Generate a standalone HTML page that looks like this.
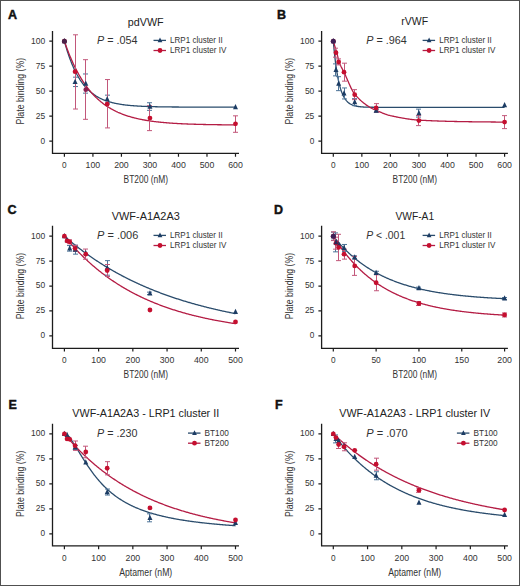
<!DOCTYPE html><html><head><meta charset="utf-8"><style>html,body{margin:0;padding:0;background:#fff;}svg{display:block;font-family:"Liberation Sans",sans-serif;}</style></head><body>
<svg width="520" height="586" viewBox="0 0 520 586">
<rect x="0" y="0" width="520" height="586" fill="#fff"/>
<text x="8" y="18.7" font-size="12.5" font-weight="bold" fill="#111" stroke="#111" stroke-width="0.45">A</text>
<text x="145.75" y="25.5" font-size="11" text-anchor="middle" textLength="35.8" lengthAdjust="spacingAndGlyphs" fill="#222">pdVWF</text>
<path d="M52.5 31V153.4H239" fill="none" stroke="#1c1c1c" stroke-width="1.3"/>
<path d="M49.3 141.1H52.5M49.3 116.12H52.5M49.3 91.15H52.5M49.3 66.17H52.5M49.3 41.2H52.5M64.4 153.4V156.7M92.92 153.4V156.7M121.43 153.4V156.7M149.95 153.4V156.7M178.47 153.4V156.7M206.98 153.4V156.7M235.5 153.4V156.7" stroke="#1c1c1c" stroke-width="1.2"/>
<text x="45.2" y="143.5" font-size="9.5" text-anchor="end" textLength="4.6" lengthAdjust="spacingAndGlyphs" fill="#333">0</text>
<text x="45.2" y="118.53" font-size="9.5" text-anchor="end" textLength="9.4" lengthAdjust="spacingAndGlyphs" fill="#333">25</text>
<text x="45.2" y="93.55" font-size="9.5" text-anchor="end" textLength="9.4" lengthAdjust="spacingAndGlyphs" fill="#333">50</text>
<text x="45.2" y="68.58" font-size="9.5" text-anchor="end" textLength="9.4" lengthAdjust="spacingAndGlyphs" fill="#333">75</text>
<text x="45.2" y="43.6" font-size="9.5" text-anchor="end" textLength="14.2" lengthAdjust="spacingAndGlyphs" fill="#333">100</text>
<text x="64.4" y="168.1" font-size="9.5" text-anchor="middle" textLength="4.6" lengthAdjust="spacingAndGlyphs" fill="#333">0</text>
<text x="92.92" y="168.1" font-size="9.5" text-anchor="middle" textLength="14.6" lengthAdjust="spacingAndGlyphs" fill="#333">100</text>
<text x="121.43" y="168.1" font-size="9.5" text-anchor="middle" textLength="14.6" lengthAdjust="spacingAndGlyphs" fill="#333">200</text>
<text x="149.95" y="168.1" font-size="9.5" text-anchor="middle" textLength="14.6" lengthAdjust="spacingAndGlyphs" fill="#333">300</text>
<text x="178.47" y="168.1" font-size="9.5" text-anchor="middle" textLength="14.6" lengthAdjust="spacingAndGlyphs" fill="#333">400</text>
<text x="206.98" y="168.1" font-size="9.5" text-anchor="middle" textLength="14.6" lengthAdjust="spacingAndGlyphs" fill="#333">500</text>
<text x="235.5" y="168.1" font-size="9.5" text-anchor="middle" textLength="14.6" lengthAdjust="spacingAndGlyphs" fill="#333">600</text>
<text x="145.75" y="183" font-size="10.6" text-anchor="middle" textLength="44.4" lengthAdjust="spacingAndGlyphs" fill="#333">BT200 (nM)</text>
<text x="0" y="0" fill="#333" font-size="11" text-anchor="middle" textLength="66.5" lengthAdjust="spacingAndGlyphs" transform="translate(24.2 91.15) rotate(-90)">Plate binding (%)</text>
<text x="97.1" y="43.8" fill="#333" font-size="10.6" textLength="40.5" lengthAdjust="spacingAndGlyphs"><tspan font-style="italic">P</tspan> = .054</text>
<path d="M153.5 40.4h12.5" stroke="#2a4c6c" stroke-width="1.3"/>
<path d="M153.5 50.5h12.5" stroke="#b41c44" stroke-width="1.3"/>
<path d="M160 37.44L162.35 42.37L157.65 42.37Z" fill="#1c3c64"/>
<circle cx="160" cy="50.5" r="2.4" fill="#c50f2f"/>
<text x="170.1" y="43" font-size="9" textLength="52.6" lengthAdjust="spacingAndGlyphs" fill="#333">LRP1 cluster II</text>
<text x="170.1" y="53.4" font-size="9" textLength="56.2" lengthAdjust="spacingAndGlyphs" fill="#333">LRP1 cluster IV</text>
<polyline points="64.4,41.2 65.11,43.79 65.83,46.27 66.54,48.66 67.25,50.95 67.96,53.15 68.68,55.27 69.39,57.3 70.1,59.26 70.82,61.13 71.53,62.94 72.24,64.67 72.96,66.34 73.67,67.93 74.38,69.47 75.09,70.95 75.81,72.37 76.52,73.73 77.23,75.04 77.95,76.3 78.66,77.51 79.37,78.67 80.08,79.79 80.8,80.86 81.51,81.89 82.22,82.88 82.94,83.83 83.65,84.74 84.36,85.62 85.07,86.46 85.79,87.28 86.5,88.05 87.21,88.8 87.93,89.52 88.64,90.21 89.35,90.87 90.07,91.51 90.78,92.12 91.49,92.71 92.2,93.28 92.92,93.82 93.63,94.34 94.34,94.85 95.06,95.33 95.77,95.79 96.48,96.24 97.19,96.66 97.91,97.07 98.62,97.47 99.33,97.85 100.05,98.21 100.76,98.56 101.47,98.9 102.18,99.22 102.9,99.53 103.61,99.83 104.32,100.11 105.04,100.39 105.75,100.65 106.46,100.91 107.18,101.15 107.89,101.39 108.6,101.61 109.31,101.83 110.03,102.04 110.74,102.24 111.45,102.43 112.17,102.61 112.88,102.79 113.59,102.96 114.3,103.12 115.02,103.28 115.73,103.43 116.44,103.58 117.16,103.72 117.87,103.85 118.58,103.98 119.29,104.1 120.01,104.22 120.72,104.34 121.43,104.45 122.15,104.55 122.86,104.65 123.57,104.75 124.29,104.84 125,104.93 125.71,105.02 126.42,105.1 127.14,105.18 127.85,105.26 128.56,105.33 129.28,105.4 129.99,105.47 130.7,105.54 131.41,105.6 132.13,105.66 132.84,105.72 133.55,105.77 134.27,105.83 134.98,105.88 135.69,105.93 136.4,105.97 137.12,106.02 137.83,106.06 138.54,106.1 139.26,106.15 139.97,106.18 140.68,106.22 141.4,106.26 142.11,106.29 142.82,106.32 143.53,106.36 144.25,106.39 144.96,106.42 145.67,106.44 146.39,106.47 147.1,106.5 147.81,106.52 148.52,106.55 149.24,106.57 149.95,106.59 150.66,106.61 151.38,106.63 152.09,106.65 152.8,106.67 153.51,106.69 154.23,106.71 154.94,106.72 155.65,106.74 156.37,106.76 157.08,106.77 157.79,106.78 158.5,106.8 159.22,106.81 159.93,106.82 160.64,106.84 161.36,106.85 162.07,106.86 162.78,106.87 163.5,106.88 164.21,106.89 164.92,106.9 165.63,106.91 166.35,106.92 167.06,106.93 167.77,106.93 168.49,106.94 169.2,106.95 169.91,106.96 170.62,106.96 171.34,106.97 172.05,106.98 172.76,106.98 173.48,106.99 174.19,106.99 174.9,107 175.62,107.01 176.33,107.01 177.04,107.02 177.75,107.02 178.47,107.02 179.18,107.03 179.89,107.03 180.61,107.04 181.32,107.04 182.03,107.04 182.74,107.05 183.46,107.05 184.17,107.05 184.88,107.06 185.6,107.06 186.31,107.06 187.02,107.07 187.73,107.07 188.45,107.07 189.16,107.07 189.87,107.08 190.59,107.08 191.3,107.08 192.01,107.08 192.73,107.08 193.44,107.09 194.15,107.09 194.86,107.09 195.58,107.09 196.29,107.09 197,107.1 197.72,107.1 198.43,107.1 199.14,107.1 199.85,107.1 200.57,107.1 201.28,107.1 201.99,107.1 202.71,107.11 203.42,107.11 204.13,107.11 204.84,107.11 205.56,107.11 206.27,107.11 206.98,107.11 207.7,107.11 208.41,107.11 209.12,107.11 209.84,107.12 210.55,107.12 211.26,107.12 211.97,107.12 212.69,107.12 213.4,107.12 214.11,107.12 214.83,107.12 215.54,107.12 216.25,107.12 216.96,107.12 217.68,107.12 218.39,107.12 219.1,107.12 219.82,107.12 220.53,107.12 221.24,107.12 221.95,107.12 222.67,107.12 223.38,107.13 224.09,107.13 224.81,107.13 225.52,107.13 226.23,107.13 226.95,107.13 227.66,107.13 228.37,107.13 229.08,107.13 229.8,107.13 230.51,107.13 231.22,107.13 231.94,107.13 232.65,107.13 233.36,107.13 234.07,107.13 234.79,107.13 235.5,107.13" fill="none" stroke="#2a4c6c" stroke-width="1.3"/>
<polyline points="64.4,41.2 65.11,43.27 65.83,45.29 66.54,47.26 67.25,49.19 67.96,51.06 68.68,52.89 69.39,54.67 70.1,56.41 70.82,58.11 71.53,59.76 72.24,61.38 72.96,62.95 73.67,64.48 74.38,65.98 75.09,67.44 75.81,68.87 76.52,70.25 77.23,71.61 77.95,72.93 78.66,74.22 79.37,75.48 80.08,76.7 80.8,77.9 81.51,79.06 82.22,80.2 82.94,81.31 83.65,82.39 84.36,83.44 85.07,84.47 85.79,85.48 86.5,86.46 87.21,87.41 87.93,88.34 88.64,89.25 89.35,90.13 90.07,91 90.78,91.84 91.49,92.66 92.2,93.46 92.92,94.25 93.63,95.01 94.34,95.75 95.06,96.48 95.77,97.18 96.48,97.87 97.19,98.55 97.91,99.2 98.62,99.84 99.33,100.47 100.05,101.07 100.76,101.67 101.47,102.25 102.18,102.81 102.9,103.36 103.61,103.9 104.32,104.42 105.04,104.93 105.75,105.43 106.46,105.92 107.18,106.39 107.89,106.85 108.6,107.3 109.31,107.74 110.03,108.17 110.74,108.59 111.45,109 112.17,109.4 112.88,109.79 113.59,110.16 114.3,110.53 115.02,110.89 115.73,111.24 116.44,111.59 117.16,111.92 117.87,112.25 118.58,112.56 119.29,112.87 120.01,113.18 120.72,113.47 121.43,113.76 122.15,114.04 122.86,114.31 123.57,114.58 124.29,114.84 125,115.09 125.71,115.34 126.42,115.58 127.14,115.82 127.85,116.05 128.56,116.27 129.28,116.49 129.99,116.7 130.7,116.91 131.41,117.11 132.13,117.31 132.84,117.5 133.55,117.69 134.27,117.87 134.98,118.05 135.69,118.23 136.4,118.4 137.12,118.56 137.83,118.73 138.54,118.88 139.26,119.04 139.97,119.19 140.68,119.33 141.4,119.48 142.11,119.62 142.82,119.75 143.53,119.88 144.25,120.01 144.96,120.14 145.67,120.26 146.39,120.38 147.1,120.5 147.81,120.61 148.52,120.72 149.24,120.83 149.95,120.94 150.66,121.04 151.38,121.14 152.09,121.24 152.8,121.34 153.51,121.43 154.23,121.52 154.94,121.61 155.65,121.7 156.37,121.78 157.08,121.86 157.79,121.94 158.5,122.02 159.22,122.1 159.93,122.17 160.64,122.24 161.36,122.32 162.07,122.38 162.78,122.45 163.5,122.52 164.21,122.58 164.92,122.64 165.63,122.71 166.35,122.77 167.06,122.82 167.77,122.88 168.49,122.93 169.2,122.99 169.91,123.04 170.62,123.09 171.34,123.14 172.05,123.19 172.76,123.24 173.48,123.29 174.19,123.33 174.9,123.37 175.62,123.42 176.33,123.46 177.04,123.5 177.75,123.54 178.47,123.58 179.18,123.62 179.89,123.65 180.61,123.69 181.32,123.73 182.03,123.76 182.74,123.79 183.46,123.83 184.17,123.86 184.88,123.89 185.6,123.92 186.31,123.95 187.02,123.98 187.73,124.01 188.45,124.03 189.16,124.06 189.87,124.09 190.59,124.11 191.3,124.14 192.01,124.16 192.73,124.18 193.44,124.21 194.15,124.23 194.86,124.25 195.58,124.27 196.29,124.29 197,124.31 197.72,124.33 198.43,124.35 199.14,124.37 199.85,124.39 200.57,124.41 201.28,124.43 201.99,124.44 202.71,124.46 203.42,124.48 204.13,124.49 204.84,124.51 205.56,124.52 206.27,124.54 206.98,124.55 207.7,124.56 208.41,124.58 209.12,124.59 209.84,124.6 210.55,124.62 211.26,124.63 211.97,124.64 212.69,124.65 213.4,124.66 214.11,124.68 214.83,124.69 215.54,124.7 216.25,124.71 216.96,124.72 217.68,124.73 218.39,124.74 219.1,124.75 219.82,124.76 220.53,124.76 221.24,124.77 221.95,124.78 222.67,124.79 223.38,124.8 224.09,124.81 224.81,124.81 225.52,124.82 226.23,124.83 226.95,124.84 227.66,124.84 228.37,124.85 229.08,124.86 229.8,124.86 230.51,124.87 231.22,124.87 231.94,124.88 232.65,124.89 233.36,124.89 234.07,124.9 234.79,124.9 235.5,124.91" fill="none" stroke="#b41c44" stroke-width="1.3"/>
<path d="M75.5 77.16V86.55M73 77.16h5M73 86.55h5" stroke="#4d7498" stroke-width="1" fill="none"/>
<path d="M85.5 73.97V93.15M83 73.97h5M83 93.15h5" stroke="#4d7498" stroke-width="1" fill="none"/>
<path d="M107.5 95.15V103.14M105 95.15h5M105 103.14h5" stroke="#4d7498" stroke-width="1" fill="none"/>
<path d="M149.5 102.74V110.33M147 102.74h5M147 110.33h5" stroke="#4d7498" stroke-width="1" fill="none"/>
<path d="M75.5 34.81V109.03M73 34.81h5M73 109.03h5" stroke="#c2577a" stroke-width="1" fill="none"/>
<path d="M85.5 59.68V119.32M83 59.68h5M83 119.32h5" stroke="#c2577a" stroke-width="1" fill="none"/>
<path d="M107.5 79.56V127.91M105 79.56h5M105 127.91h5" stroke="#c2577a" stroke-width="1" fill="none"/>
<path d="M149.5 105.64V130.61M147 105.64h5M147 130.61h5" stroke="#c2577a" stroke-width="1" fill="none"/>
<path d="M235.5 115.83V132.31M233 115.83h5M233 132.31h5" stroke="#c2577a" stroke-width="1" fill="none"/>
<path d="M64.4 38.05L66.9 43.3L61.9 43.3Z" fill="#1c3c64"/>
<path d="M75.09 78.71L77.59 83.96L72.59 83.96Z" fill="#1c3c64"/>
<path d="M85.79 80.41L88.29 85.66L83.29 85.66Z" fill="#1c3c64"/>
<path d="M107.18 95.99L109.68 101.24L104.68 101.24Z" fill="#1c3c64"/>
<path d="M149.95 103.38L152.45 108.63L147.45 108.63Z" fill="#1c3c64"/>
<path d="M235.5 103.98L238 109.23L233 109.23Z" fill="#1c3c64"/>
<circle cx="64.4" cy="41.2" r="2.4" fill="#c50f2f"/>
<circle cx="75.09" cy="71.67" r="2.4" fill="#c50f2f"/>
<circle cx="85.79" cy="89.65" r="2.4" fill="#8a1d4e"/>
<circle cx="107.18" cy="104.14" r="2.4" fill="#c50f2f"/>
<circle cx="149.95" cy="118.12" r="2.4" fill="#c50f2f"/>
<circle cx="235.5" cy="123.82" r="2.4" fill="#c50f2f"/>
<circle cx="64.4" cy="41.2" r="2.5" fill="#4a2148"/>
<text x="277" y="18.8" font-size="12.5" font-weight="bold" fill="#111" stroke="#111" stroke-width="0.45">B</text>
<text x="414.75" y="25.3" font-size="11" text-anchor="middle" textLength="26.8" lengthAdjust="spacingAndGlyphs" fill="#222">rVWF</text>
<path d="M321.6 31V153.4H507.9" fill="none" stroke="#1c1c1c" stroke-width="1.3"/>
<path d="M318.4 141.1H321.6M318.4 116.12H321.6M318.4 91.15H321.6M318.4 66.17H321.6M318.4 41.2H321.6M333.3 153.4V156.7M361.85 153.4V156.7M390.4 153.4V156.7M418.95 153.4V156.7M447.5 153.4V156.7M476.05 153.4V156.7M504.6 153.4V156.7" stroke="#1c1c1c" stroke-width="1.2"/>
<text x="314.3" y="143.5" font-size="9.5" text-anchor="end" textLength="4.6" lengthAdjust="spacingAndGlyphs" fill="#333">0</text>
<text x="314.3" y="118.53" font-size="9.5" text-anchor="end" textLength="9.4" lengthAdjust="spacingAndGlyphs" fill="#333">25</text>
<text x="314.3" y="93.55" font-size="9.5" text-anchor="end" textLength="9.4" lengthAdjust="spacingAndGlyphs" fill="#333">50</text>
<text x="314.3" y="68.58" font-size="9.5" text-anchor="end" textLength="9.4" lengthAdjust="spacingAndGlyphs" fill="#333">75</text>
<text x="314.3" y="43.6" font-size="9.5" text-anchor="end" textLength="14.2" lengthAdjust="spacingAndGlyphs" fill="#333">100</text>
<text x="333.3" y="168.1" font-size="9.5" text-anchor="middle" textLength="4.6" lengthAdjust="spacingAndGlyphs" fill="#333">0</text>
<text x="361.85" y="168.1" font-size="9.5" text-anchor="middle" textLength="14.6" lengthAdjust="spacingAndGlyphs" fill="#333">100</text>
<text x="390.4" y="168.1" font-size="9.5" text-anchor="middle" textLength="14.6" lengthAdjust="spacingAndGlyphs" fill="#333">200</text>
<text x="418.95" y="168.1" font-size="9.5" text-anchor="middle" textLength="14.6" lengthAdjust="spacingAndGlyphs" fill="#333">300</text>
<text x="447.5" y="168.1" font-size="9.5" text-anchor="middle" textLength="14.6" lengthAdjust="spacingAndGlyphs" fill="#333">400</text>
<text x="476.05" y="168.1" font-size="9.5" text-anchor="middle" textLength="14.6" lengthAdjust="spacingAndGlyphs" fill="#333">500</text>
<text x="504.6" y="168.1" font-size="9.5" text-anchor="middle" textLength="14.6" lengthAdjust="spacingAndGlyphs" fill="#333">600</text>
<text x="414.75" y="183" font-size="10.6" text-anchor="middle" textLength="44.4" lengthAdjust="spacingAndGlyphs" fill="#333">BT200 (nM)</text>
<text x="0" y="0" fill="#333" font-size="11" text-anchor="middle" textLength="66.5" lengthAdjust="spacingAndGlyphs" transform="translate(293.3 91.15) rotate(-90)">Plate binding (%)</text>
<text x="366.2" y="43.8" fill="#333" font-size="10.6" textLength="40.5" lengthAdjust="spacingAndGlyphs"><tspan font-style="italic">P</tspan> = .964</text>
<path d="M422.6 40.4h12.5" stroke="#2a4c6c" stroke-width="1.3"/>
<path d="M422.6 50.5h12.5" stroke="#b41c44" stroke-width="1.3"/>
<path d="M429.1 37.44L431.45 42.37L426.75 42.37Z" fill="#1c3c64"/>
<circle cx="429.1" cy="50.5" r="2.4" fill="#c50f2f"/>
<text x="439.2" y="43" font-size="9" textLength="52.6" lengthAdjust="spacingAndGlyphs" fill="#333">LRP1 cluster II</text>
<text x="439.2" y="53.4" font-size="9" textLength="56.2" lengthAdjust="spacingAndGlyphs" fill="#333">LRP1 cluster IV</text>
<polyline points="333.3,41.2 334.01,48.97 334.73,55.83 335.44,61.88 336.16,67.22 336.87,71.93 337.58,76.09 338.3,79.77 339.01,83 339.72,85.86 340.44,88.39 341.15,90.61 341.87,92.58 342.58,94.31 343.29,95.84 344.01,97.19 344.72,98.38 345.43,99.44 346.15,100.36 346.86,101.18 347.57,101.91 348.29,102.54 349,103.11 349.72,103.6 350.43,104.04 351.14,104.43 351.86,104.77 352.57,105.07 353.29,105.34 354,105.57 354.71,105.78 355.43,105.96 356.14,106.12 356.85,106.26 357.57,106.39 358.28,106.5 359,106.6 359.71,106.69 360.42,106.76 361.14,106.83 361.85,106.89 362.56,106.94 363.28,106.99 363.99,107.03 364.71,107.06 365.42,107.1 366.13,107.12 366.85,107.15 367.56,107.17 368.27,107.19 368.99,107.21 369.7,107.22 370.42,107.23 371.13,107.25 371.84,107.26 372.56,107.27 373.27,107.27 373.98,107.28 374.7,107.29 375.41,107.29 376.12,107.3 376.84,107.3 377.55,107.31 378.27,107.31 378.98,107.31 379.69,107.31 380.41,107.32 381.12,107.32 381.84,107.32 382.55,107.32 383.26,107.32 383.98,107.32 384.69,107.33 385.4,107.33 386.12,107.33 386.83,107.33 387.55,107.33 388.26,107.33 388.97,107.33 389.69,107.33 390.4,107.33 391.11,107.33 391.83,107.33 392.54,107.33 393.25,107.33 393.97,107.33 394.68,107.33 395.4,107.33 396.11,107.33 396.82,107.33 397.54,107.33 398.25,107.33 398.97,107.33 399.68,107.33 400.39,107.33 401.11,107.33 401.82,107.33 402.53,107.33 403.25,107.33 403.96,107.33 404.68,107.33 405.39,107.33 406.1,107.33 406.82,107.33 407.53,107.33 408.24,107.33 408.96,107.33 409.67,107.33 410.38,107.33 411.1,107.33 411.81,107.33 412.53,107.33 413.24,107.33 413.95,107.33 414.67,107.33 415.38,107.33 416.1,107.33 416.81,107.33 417.52,107.33 418.24,107.33 418.95,107.33 419.66,107.33 420.38,107.33 421.09,107.33 421.81,107.33 422.52,107.33 423.23,107.33 423.95,107.33 424.66,107.33 425.37,107.33 426.09,107.33 426.8,107.33 427.51,107.33 428.23,107.33 428.94,107.33 429.66,107.33 430.37,107.33 431.08,107.33 431.8,107.33 432.51,107.33 433.23,107.33 433.94,107.33 434.65,107.33 435.37,107.33 436.08,107.33 436.79,107.33 437.51,107.33 438.22,107.33 438.94,107.33 439.65,107.33 440.36,107.33 441.08,107.33 441.79,107.33 442.5,107.33 443.22,107.33 443.93,107.33 444.65,107.33 445.36,107.33 446.07,107.33 446.79,107.33 447.5,107.33 448.21,107.33 448.93,107.33 449.64,107.33 450.36,107.33 451.07,107.33 451.78,107.33 452.5,107.33 453.21,107.33 453.92,107.33 454.64,107.33 455.35,107.33 456.07,107.33 456.78,107.33 457.49,107.33 458.21,107.33 458.92,107.33 459.63,107.33 460.35,107.33 461.06,107.33 461.78,107.33 462.49,107.33 463.2,107.33 463.92,107.33 464.63,107.33 465.34,107.33 466.06,107.33 466.77,107.33 467.49,107.33 468.2,107.33 468.91,107.33 469.63,107.33 470.34,107.33 471.05,107.33 471.77,107.33 472.48,107.33 473.2,107.33 473.91,107.33 474.62,107.33 475.34,107.33 476.05,107.33 476.76,107.33 477.48,107.33 478.19,107.33 478.91,107.33 479.62,107.33 480.33,107.33 481.05,107.33 481.76,107.33 482.47,107.33 483.19,107.33 483.9,107.33 484.62,107.33 485.33,107.33 486.04,107.33 486.76,107.33 487.47,107.33 488.18,107.33 488.9,107.33 489.61,107.33 490.33,107.33 491.04,107.33 491.75,107.33 492.47,107.33 493.18,107.33 493.89,107.33 494.61,107.33 495.32,107.33 496.04,107.33 496.75,107.33 497.46,107.33 498.18,107.33 498.89,107.33 499.6,107.33 500.32,107.33 501.03,107.33 501.75,107.33 502.46,107.33 503.17,107.33 503.89,107.33 504.6,107.33" fill="none" stroke="#2a4c6c" stroke-width="1.3"/>
<polyline points="333.3,41.2 334.01,43.55 334.73,45.88 335.44,48.22 336.16,50.61 336.87,53.08 337.58,55.85 338.3,58.85 339.01,61.5 339.72,63.45 340.44,65.16 341.15,66.71 341.87,68.15 342.58,69.53 343.29,70.9 344.01,72.3 344.72,73.77 345.43,75.31 346.15,76.9 346.86,78.53 347.57,80.18 348.29,81.83 349,83.46 349.72,85.07 350.43,86.63 351.14,88.13 351.86,89.56 352.57,90.88 353.29,92.1 354,93.2 354.71,94.15 355.43,95.01 356.14,95.83 356.85,96.63 357.57,97.41 358.28,98.15 359,98.87 359.71,99.57 360.42,100.24 361.14,100.88 361.85,101.51 362.56,102.11 363.28,102.7 363.99,103.26 364.71,103.81 365.42,104.34 366.13,104.86 366.85,105.35 367.56,105.84 368.27,106.31 368.99,106.77 369.7,107.22 370.42,107.65 371.13,108.04 371.84,108.41 372.56,108.77 373.27,109.1 373.98,109.42 374.7,109.73 375.41,110.03 376.12,110.33 376.84,110.63 377.55,110.94 378.27,111.24 378.98,111.55 379.69,111.86 380.41,112.16 381.12,112.46 381.84,112.76 382.55,113.05 383.26,113.33 383.98,113.61 384.69,113.88 385.4,114.15 386.12,114.4 386.83,114.64 387.55,114.86 388.26,115.08 388.97,115.28 389.69,115.46 390.4,115.63 391.11,115.78 391.83,115.94 392.54,116.09 393.25,116.25 393.97,116.4 394.68,116.55 395.4,116.7 396.11,116.85 396.82,116.99 397.54,117.14 398.25,117.28 398.97,117.42 399.68,117.56 400.39,117.7 401.11,117.83 401.82,117.96 402.53,118.09 403.25,118.21 403.96,118.34 404.68,118.46 405.39,118.58 406.1,118.69 406.82,118.8 407.53,118.91 408.24,119.01 408.96,119.12 409.67,119.21 410.38,119.31 411.1,119.4 411.81,119.48 412.53,119.57 413.24,119.65 413.95,119.72 414.67,119.79 415.38,119.86 416.1,119.92 416.81,119.98 417.52,120.03 418.24,120.08 418.95,120.12 419.66,120.16 420.38,120.2 421.09,120.24 421.81,120.28 422.52,120.32 423.23,120.35 423.95,120.39 424.66,120.43 425.37,120.46 426.09,120.5 426.8,120.53 427.51,120.57 428.23,120.6 428.94,120.63 429.66,120.66 430.37,120.7 431.08,120.73 431.8,120.76 432.51,120.79 433.23,120.82 433.94,120.85 434.65,120.87 435.37,120.9 436.08,120.93 436.79,120.96 437.51,120.98 438.22,121.01 438.94,121.03 439.65,121.06 440.36,121.08 441.08,121.11 441.79,121.13 442.5,121.15 443.22,121.18 443.93,121.2 444.65,121.22 445.36,121.24 446.07,121.26 446.79,121.28 447.5,121.3 448.21,121.32 448.93,121.34 449.64,121.36 450.36,121.38 451.07,121.39 451.78,121.41 452.5,121.43 453.21,121.45 453.92,121.46 454.64,121.48 455.35,121.49 456.07,121.51 456.78,121.52 457.49,121.54 458.21,121.55 458.92,121.57 459.63,121.58 460.35,121.59 461.06,121.61 461.78,121.62 462.49,121.63 463.2,121.64 463.92,121.66 464.63,121.67 465.34,121.68 466.06,121.69 466.77,121.7 467.49,121.71 468.2,121.72 468.91,121.73 469.63,121.74 470.34,121.75 471.05,121.76 471.77,121.77 472.48,121.78 473.2,121.79 473.91,121.8 474.62,121.81 475.34,121.81 476.05,121.82 476.76,121.83 477.48,121.84 478.19,121.85 478.91,121.86 479.62,121.86 480.33,121.87 481.05,121.88 481.76,121.89 482.47,121.89 483.19,121.9 483.9,121.91 484.62,121.91 485.33,121.92 486.04,121.93 486.76,121.94 487.47,121.94 488.18,121.95 488.9,121.96 489.61,121.96 490.33,121.97 491.04,121.98 491.75,121.98 492.47,121.99 493.18,122 493.89,122.01 494.61,122.01 495.32,122.02 496.04,122.03 496.75,122.03 497.46,122.04 498.18,122.05 498.89,122.06 499.6,122.06 500.32,122.07 501.03,122.08 501.75,122.09 502.46,122.09 503.17,122.1 503.89,122.11 504.6,122.12" fill="none" stroke="#b41c44" stroke-width="1.3"/>
<path d="M335.5 63.88V75.87M333 63.88h5M333 75.87h5" stroke="#4d7498" stroke-width="1" fill="none"/>
<path d="M338.5 76.66V90.65M336 76.66h5M336 90.65h5" stroke="#4d7498" stroke-width="1" fill="none"/>
<path d="M344.5 87.95V98.94M342 87.95h5M342 98.94h5" stroke="#4d7498" stroke-width="1" fill="none"/>
<path d="M354.5 98.64V105.64M352 98.64h5M352 105.64h5" stroke="#4d7498" stroke-width="1" fill="none"/>
<path d="M376.5 109.23V112.23M374 109.23h5M374 112.23h5" stroke="#4d7498" stroke-width="1" fill="none"/>
<path d="M418.5 109.13V117.12M416 109.13h5M416 117.12h5" stroke="#4d7498" stroke-width="1" fill="none"/>
<path d="M335.5 48.19V57.18M333 48.19h5M333 57.18h5" stroke="#c2577a" stroke-width="1" fill="none"/>
<path d="M338.5 58.88V64.88M336 58.88h5M336 64.88h5" stroke="#c2577a" stroke-width="1" fill="none"/>
<path d="M344.5 63.18V81.16M342 63.18h5M342 81.16h5" stroke="#c2577a" stroke-width="1" fill="none"/>
<path d="M354.5 89.65V99.64M352 89.65h5M352 99.64h5" stroke="#c2577a" stroke-width="1" fill="none"/>
<path d="M376.5 103.64V112.23M374 103.64h5M374 112.23h5" stroke="#c2577a" stroke-width="1" fill="none"/>
<path d="M418.5 115.63V125.62M416 115.63h5M416 125.62h5" stroke="#c2577a" stroke-width="1" fill="none"/>
<path d="M504.5 115.63V128.61M502 115.63h5M502 128.61h5" stroke="#c2577a" stroke-width="1" fill="none"/>
<path d="M333.3 38.05L335.8 43.3L330.8 43.3Z" fill="#1c3c64"/>
<path d="M335.98 66.72L338.48 71.97L333.48 71.97Z" fill="#1c3c64"/>
<path d="M338.65 80.51L341.15 85.76L336.15 85.76Z" fill="#1c3c64"/>
<path d="M344.01 90.3L346.51 95.55L341.51 95.55Z" fill="#1c3c64"/>
<path d="M354.71 98.99L357.21 104.24L352.21 104.24Z" fill="#1c3c64"/>
<path d="M376.12 107.58L378.62 112.83L373.62 112.83Z" fill="#1c3c64"/>
<path d="M418.95 109.98L421.45 115.23L416.45 115.23Z" fill="#1c3c64"/>
<path d="M504.6 101.99L507.1 107.24L502.1 107.24Z" fill="#1c3c64"/>
<circle cx="333.3" cy="41.2" r="2.4" fill="#c50f2f"/>
<circle cx="335.98" cy="52.69" r="2.4" fill="#c50f2f"/>
<circle cx="338.65" cy="61.88" r="2.4" fill="#c50f2f"/>
<circle cx="344.01" cy="72.17" r="2.4" fill="#c50f2f"/>
<circle cx="354.71" cy="94.65" r="2.4" fill="#c50f2f"/>
<circle cx="376.12" cy="107.93" r="2.4" fill="#c50f2f"/>
<circle cx="418.95" cy="120.62" r="2.4" fill="#c50f2f"/>
<circle cx="504.6" cy="122.12" r="2.4" fill="#c50f2f"/>
<circle cx="333.3" cy="41.2" r="2.5" fill="#3d2156"/>
<text x="7.6" y="213.9" font-size="12.5" font-weight="bold" fill="#111" stroke="#111" stroke-width="0.45">C</text>
<text x="145.75" y="219.5" font-size="11" text-anchor="middle" textLength="68" lengthAdjust="spacingAndGlyphs" fill="#222">VWF-A1A2A3</text>
<path d="M52.5 225.8V348.3H239" fill="none" stroke="#1c1c1c" stroke-width="1.3"/>
<path d="M49.3 335.9H52.5M49.3 310.97H52.5M49.3 286.05H52.5M49.3 261.12H52.5M49.3 236.2H52.5M64.4 348.3V351.6M98.62 348.3V351.6M132.84 348.3V351.6M167.06 348.3V351.6M201.28 348.3V351.6M235.5 348.3V351.6" stroke="#1c1c1c" stroke-width="1.2"/>
<text x="45.2" y="338.3" font-size="9.5" text-anchor="end" textLength="4.6" lengthAdjust="spacingAndGlyphs" fill="#333">0</text>
<text x="45.2" y="313.37" font-size="9.5" text-anchor="end" textLength="9.4" lengthAdjust="spacingAndGlyphs" fill="#333">25</text>
<text x="45.2" y="288.45" font-size="9.5" text-anchor="end" textLength="9.4" lengthAdjust="spacingAndGlyphs" fill="#333">50</text>
<text x="45.2" y="263.52" font-size="9.5" text-anchor="end" textLength="9.4" lengthAdjust="spacingAndGlyphs" fill="#333">75</text>
<text x="45.2" y="238.6" font-size="9.5" text-anchor="end" textLength="14.2" lengthAdjust="spacingAndGlyphs" fill="#333">100</text>
<text x="64.4" y="363" font-size="9.5" text-anchor="middle" textLength="4.6" lengthAdjust="spacingAndGlyphs" fill="#333">0</text>
<text x="98.62" y="363" font-size="9.5" text-anchor="middle" textLength="14.6" lengthAdjust="spacingAndGlyphs" fill="#333">100</text>
<text x="132.84" y="363" font-size="9.5" text-anchor="middle" textLength="14.6" lengthAdjust="spacingAndGlyphs" fill="#333">200</text>
<text x="167.06" y="363" font-size="9.5" text-anchor="middle" textLength="14.6" lengthAdjust="spacingAndGlyphs" fill="#333">300</text>
<text x="201.28" y="363" font-size="9.5" text-anchor="middle" textLength="14.6" lengthAdjust="spacingAndGlyphs" fill="#333">400</text>
<text x="235.5" y="363" font-size="9.5" text-anchor="middle" textLength="14.6" lengthAdjust="spacingAndGlyphs" fill="#333">500</text>
<text x="145.75" y="377.9" font-size="10.6" text-anchor="middle" textLength="44.4" lengthAdjust="spacingAndGlyphs" fill="#333">BT200 (nM)</text>
<text x="0" y="0" fill="#333" font-size="11" text-anchor="middle" textLength="66.5" lengthAdjust="spacingAndGlyphs" transform="translate(24.2 286.05) rotate(-90)">Plate binding (%)</text>
<text x="97.1" y="238.8" fill="#333" font-size="10.6" textLength="41.2" lengthAdjust="spacingAndGlyphs"><tspan font-style="italic">P</tspan> = .006</text>
<path d="M153.5 235.4h12.5" stroke="#2a4c6c" stroke-width="1.3"/>
<path d="M153.5 245.5h12.5" stroke="#b41c44" stroke-width="1.3"/>
<path d="M160 232.44L162.35 237.37L157.65 237.37Z" fill="#1c3c64"/>
<circle cx="160" cy="245.5" r="2.4" fill="#c50f2f"/>
<text x="170.1" y="238" font-size="9" textLength="52.6" lengthAdjust="spacingAndGlyphs" fill="#333">LRP1 cluster II</text>
<text x="170.1" y="248.4" font-size="9" textLength="56.2" lengthAdjust="spacingAndGlyphs" fill="#333">LRP1 cluster IV</text>
<polyline points="64.4,236.2 65.11,236.82 65.83,237.44 66.54,238.05 67.25,238.66 67.96,239.27 68.68,239.87 69.39,240.47 70.1,241.06 70.82,241.65 71.53,242.24 72.24,242.82 72.96,243.4 73.67,243.98 74.38,244.55 75.09,245.12 75.81,245.69 76.52,246.25 77.23,246.81 77.95,247.36 78.66,247.92 79.37,248.46 80.08,249.01 80.8,249.55 81.51,250.09 82.22,250.62 82.94,251.15 83.65,251.68 84.36,252.21 85.07,252.73 85.79,253.25 86.5,253.76 87.21,254.27 87.93,254.78 88.64,255.29 89.35,255.79 90.06,256.29 90.78,256.78 91.49,257.28 92.2,257.77 92.92,258.25 93.63,258.74 94.34,259.22 95.06,259.7 95.77,260.17 96.48,260.64 97.19,261.11 97.91,261.58 98.62,262.04 99.33,262.5 100.05,262.96 100.76,263.41 101.47,263.86 102.18,264.31 102.9,264.76 103.61,265.2 104.32,265.64 105.04,266.08 105.75,266.52 106.46,266.95 107.18,267.38 107.89,267.8 108.6,268.23 109.31,268.65 110.03,269.07 110.74,269.49 111.45,269.9 112.17,270.31 112.88,270.72 113.59,271.13 114.3,271.53 115.02,271.93 115.73,272.33 116.44,272.72 117.16,273.12 117.87,273.51 118.58,273.9 119.29,274.28 120.01,274.67 120.72,275.05 121.43,275.43 122.15,275.81 122.86,276.18 123.57,276.55 124.28,276.92 125,277.29 125.71,277.65 126.42,278.02 127.14,278.38 127.85,278.74 128.56,279.09 129.28,279.45 129.99,279.8 130.7,280.15 131.41,280.5 132.13,280.84 132.84,281.18 133.55,281.52 134.27,281.86 134.98,282.2 135.69,282.53 136.4,282.87 137.12,283.2 137.83,283.53 138.54,283.85 139.26,284.18 139.97,284.5 140.68,284.82 141.4,285.14 142.11,285.45 142.82,285.77 143.53,286.08 144.25,286.39 144.96,286.7 145.67,287.01 146.39,287.31 147.1,287.61 147.81,287.91 148.52,288.21 149.24,288.51 149.95,288.81 150.66,289.1 151.38,289.39 152.09,289.68 152.8,289.97 153.51,290.25 154.23,290.54 154.94,290.82 155.65,291.1 156.37,291.38 157.08,291.66 157.79,291.93 158.5,292.21 159.22,292.48 159.93,292.75 160.64,293.02 161.36,293.29 162.07,293.55 162.78,293.82 163.5,294.08 164.21,294.34 164.92,294.6 165.63,294.86 166.35,295.11 167.06,295.37 167.77,295.62 168.49,295.87 169.2,296.12 169.91,296.37 170.62,296.61 171.34,296.86 172.05,297.1 172.76,297.34 173.48,297.58 174.19,297.82 174.9,298.06 175.62,298.29 176.33,298.53 177.04,298.76 177.75,298.99 178.47,299.22 179.18,299.45 179.89,299.68 180.61,299.9 181.32,300.13 182.03,300.35 182.74,300.57 183.46,300.79 184.17,301.01 184.88,301.23 185.6,301.44 186.31,301.66 187.02,301.87 187.73,302.08 188.45,302.3 189.16,302.5 189.87,302.71 190.59,302.92 191.3,303.13 192.01,303.33 192.72,303.53 193.44,303.73 194.15,303.93 194.86,304.13 195.58,304.33 196.29,304.53 197,304.72 197.72,304.92 198.43,305.11 199.14,305.3 199.85,305.49 200.57,305.68 201.28,305.87 201.99,306.06 202.71,306.24 203.42,306.43 204.13,306.61 204.84,306.79 205.56,306.98 206.27,307.16 206.98,307.34 207.7,307.51 208.41,307.69 209.12,307.87 209.84,308.04 210.55,308.21 211.26,308.39 211.97,308.56 212.69,308.73 213.4,308.9 214.11,309.07 214.83,309.23 215.54,309.4 216.25,309.56 216.96,309.73 217.68,309.89 218.39,310.05 219.1,310.21 219.82,310.37 220.53,310.53 221.24,310.69 221.95,310.85 222.67,311.01 223.38,311.16 224.09,311.31 224.81,311.47 225.52,311.62 226.23,311.77 226.95,311.92 227.66,312.07 228.37,312.22 229.08,312.37 229.8,312.51 230.51,312.66 231.22,312.8 231.94,312.95 232.65,313.09 233.36,313.23 234.07,313.37 234.79,313.51 235.5,313.65" fill="none" stroke="#2a4c6c" stroke-width="1.3"/>
<polyline points="64.4,236.2 65.11,237.07 65.83,237.93 66.54,238.78 67.25,239.63 67.96,240.47 68.68,241.3 69.39,242.12 70.1,242.94 70.82,243.75 71.53,244.55 72.24,245.35 72.96,246.14 73.67,246.92 74.38,247.69 75.09,248.46 75.81,249.22 76.52,249.98 77.23,250.73 77.95,251.47 78.66,252.21 79.37,252.94 80.08,253.66 80.8,254.37 81.51,255.08 82.22,255.79 82.94,256.49 83.65,257.18 84.36,257.86 85.07,258.54 85.79,259.22 86.5,259.89 87.21,260.55 87.93,261.2 88.64,261.86 89.35,262.5 90.06,263.14 90.78,263.77 91.49,264.4 92.2,265.03 92.92,265.64 93.63,266.25 94.34,266.86 95.06,267.46 95.77,268.06 96.48,268.65 97.19,269.24 97.91,269.82 98.62,270.39 99.33,270.96 100.05,271.53 100.76,272.09 101.47,272.65 102.18,273.2 102.9,273.74 103.61,274.28 104.32,274.82 105.04,275.35 105.75,275.88 106.46,276.4 107.18,276.92 107.89,277.44 108.6,277.95 109.31,278.45 110.03,278.95 110.74,279.45 111.45,279.94 112.17,280.43 112.88,280.91 113.59,281.39 114.3,281.86 115.02,282.33 115.73,282.8 116.44,283.26 117.16,283.72 117.87,284.18 118.58,284.63 119.29,285.07 120.01,285.52 120.72,285.96 121.43,286.39 122.15,286.82 122.86,287.25 123.57,287.67 124.28,288.09 125,288.51 125.71,288.92 126.42,289.33 127.14,289.74 127.85,290.14 128.56,290.54 129.28,290.93 129.99,291.33 130.7,291.71 131.41,292.1 132.13,292.48 132.84,292.86 133.55,293.23 134.27,293.61 134.98,293.97 135.69,294.34 136.4,294.7 137.12,295.06 137.83,295.42 138.54,295.77 139.26,296.12 139.97,296.46 140.68,296.81 141.4,297.15 142.11,297.49 142.82,297.82 143.53,298.15 144.25,298.48 144.96,298.81 145.67,299.13 146.39,299.45 147.1,299.77 147.81,300.08 148.52,300.4 149.24,300.7 149.95,301.01 150.66,301.32 151.38,301.62 152.09,301.92 152.8,302.21 153.51,302.5 154.23,302.8 154.94,303.08 155.65,303.37 156.37,303.65 157.08,303.93 157.79,304.21 158.5,304.49 159.22,304.76 159.93,305.03 160.64,305.3 161.36,305.57 162.07,305.83 162.78,306.1 163.5,306.35 164.21,306.61 164.92,306.87 165.63,307.12 166.35,307.37 167.06,307.62 167.77,307.87 168.49,308.11 169.2,308.35 169.91,308.59 170.62,308.83 171.34,309.07 172.05,309.3 172.76,309.53 173.48,309.76 174.19,309.99 174.9,310.21 175.62,310.44 176.33,310.66 177.04,310.88 177.75,311.1 178.47,311.31 179.18,311.53 179.89,311.74 180.61,311.95 181.32,312.16 182.03,312.37 182.74,312.57 183.46,312.77 184.17,312.98 184.88,313.18 185.6,313.37 186.31,313.57 187.02,313.76 187.73,313.96 188.45,314.15 189.16,314.34 189.87,314.53 190.59,314.71 191.3,314.9 192.01,315.08 192.72,315.26 193.44,315.44 194.15,315.62 194.86,315.8 195.58,315.97 196.29,316.14 197,316.32 197.72,316.49 198.43,316.66 199.14,316.82 199.85,316.99 200.57,317.16 201.28,317.32 201.99,317.48 202.71,317.64 203.42,317.8 204.13,317.96 204.84,318.11 205.56,318.27 206.27,318.42 206.98,318.57 207.7,318.73 208.41,318.88 209.12,319.02 209.84,319.17 210.55,319.32 211.26,319.46 211.97,319.6 212.69,319.75 213.4,319.89 214.11,320.03 214.83,320.16 215.54,320.3 216.25,320.44 216.96,320.57 217.68,320.71 218.39,320.84 219.1,320.97 219.82,321.1 220.53,321.23 221.24,321.36 221.95,321.48 222.67,321.61 223.38,321.73 224.09,321.86 224.81,321.98 225.52,322.1 226.23,322.22 226.95,322.34 227.66,322.46 228.37,322.57 229.08,322.69 229.8,322.81 230.51,322.92 231.22,323.03 231.94,323.15 232.65,323.26 233.36,323.37 234.07,323.48 234.79,323.58 235.5,323.69" fill="none" stroke="#b41c44" stroke-width="1.3"/>
<path d="M69.5 245.57V251.15M67 245.57h5M67 251.15h5" stroke="#4d7498" stroke-width="1" fill="none"/>
<path d="M75.5 245.17V254.15M73 245.17h5M73 254.15h5" stroke="#4d7498" stroke-width="1" fill="none"/>
<path d="M107.5 260.63V275.18M105 260.63h5M105 275.18h5" stroke="#4d7498" stroke-width="1" fill="none"/>
<path d="M149.5 292.13V294.52M147 292.13h5M147 294.52h5" stroke="#4d7498" stroke-width="1" fill="none"/>
<path d="M69.5 239.79V243.78M67 239.79h5M67 243.78h5" stroke="#c2577a" stroke-width="1" fill="none"/>
<path d="M75.5 245.37V251.35M73 245.37h5M73 251.35h5" stroke="#c2577a" stroke-width="1" fill="none"/>
<path d="M85.5 249.06V259.23M83 249.06h5M83 259.23h5" stroke="#c2577a" stroke-width="1" fill="none"/>
<path d="M107.5 264.51V276.48M105 264.51h5M105 276.48h5" stroke="#c2577a" stroke-width="1" fill="none"/>
<path d="M64.4 233.05L66.9 238.3L61.9 238.3Z" fill="#1c3c64"/>
<path d="M67.07 237.04L69.57 242.29L64.57 242.29Z" fill="#1c3c64"/>
<path d="M69.74 245.21L72.24 250.46L67.24 250.46Z" fill="#1c3c64"/>
<path d="M75.09 246.51L77.59 251.76L72.59 251.76Z" fill="#1c3c64"/>
<path d="M85.79 250L88.29 255.25L83.29 255.25Z" fill="#1c3c64"/>
<path d="M107.18 264.75L109.68 270L104.68 270Z" fill="#1c3c64"/>
<path d="M149.95 290.18L152.45 295.43L147.45 295.43Z" fill="#1c3c64"/>
<path d="M235.5 308.82L238 314.07L233 314.07Z" fill="#1c3c64"/>
<circle cx="64.4" cy="236.2" r="2.4" fill="#c50f2f"/>
<circle cx="67.07" cy="240.89" r="2.4" fill="#c50f2f"/>
<circle cx="69.74" cy="241.78" r="2.4" fill="#c50f2f"/>
<circle cx="75.09" cy="248.36" r="2.4" fill="#c50f2f"/>
<circle cx="85.79" cy="254.15" r="2.4" fill="#c50f2f"/>
<circle cx="107.18" cy="270.5" r="2.4" fill="#c50f2f"/>
<circle cx="149.95" cy="309.98" r="2.4" fill="#c50f2f"/>
<circle cx="235.5" cy="321.94" r="2.4" fill="#c50f2f"/>
<text x="274" y="213.9" font-size="12.5" font-weight="bold" fill="#111" stroke="#111" stroke-width="0.45">D</text>
<text x="414.75" y="219.5" font-size="11" text-anchor="middle" textLength="38.7" lengthAdjust="spacingAndGlyphs" fill="#222">VWF-A1</text>
<path d="M321.6 225.8V348.3H507.9" fill="none" stroke="#1c1c1c" stroke-width="1.3"/>
<path d="M318.4 335.9H321.6M318.4 310.97H321.6M318.4 286.05H321.6M318.4 261.12H321.6M318.4 236.2H321.6M333.3 348.3V351.6M376.12 348.3V351.6M418.95 348.3V351.6M461.77 348.3V351.6M504.6 348.3V351.6" stroke="#1c1c1c" stroke-width="1.2"/>
<text x="314.3" y="338.3" font-size="9.5" text-anchor="end" textLength="4.6" lengthAdjust="spacingAndGlyphs" fill="#333">0</text>
<text x="314.3" y="313.37" font-size="9.5" text-anchor="end" textLength="9.4" lengthAdjust="spacingAndGlyphs" fill="#333">25</text>
<text x="314.3" y="288.45" font-size="9.5" text-anchor="end" textLength="9.4" lengthAdjust="spacingAndGlyphs" fill="#333">50</text>
<text x="314.3" y="263.52" font-size="9.5" text-anchor="end" textLength="9.4" lengthAdjust="spacingAndGlyphs" fill="#333">75</text>
<text x="314.3" y="238.6" font-size="9.5" text-anchor="end" textLength="14.2" lengthAdjust="spacingAndGlyphs" fill="#333">100</text>
<text x="333.3" y="363" font-size="9.5" text-anchor="middle" textLength="4.6" lengthAdjust="spacingAndGlyphs" fill="#333">0</text>
<text x="376.12" y="363" font-size="9.5" text-anchor="middle" textLength="9.4" lengthAdjust="spacingAndGlyphs" fill="#333">50</text>
<text x="418.95" y="363" font-size="9.5" text-anchor="middle" textLength="14.6" lengthAdjust="spacingAndGlyphs" fill="#333">100</text>
<text x="461.77" y="363" font-size="9.5" text-anchor="middle" textLength="14.6" lengthAdjust="spacingAndGlyphs" fill="#333">150</text>
<text x="504.6" y="363" font-size="9.5" text-anchor="middle" textLength="14.6" lengthAdjust="spacingAndGlyphs" fill="#333">200</text>
<text x="414.75" y="377.9" font-size="10.6" text-anchor="middle" textLength="44.4" lengthAdjust="spacingAndGlyphs" fill="#333">BT200 (nM)</text>
<text x="0" y="0" fill="#333" font-size="11" text-anchor="middle" textLength="66.5" lengthAdjust="spacingAndGlyphs" transform="translate(293.3 286.05) rotate(-90)">Plate binding (%)</text>
<text x="366.2" y="238.8" fill="#333" font-size="10.6" textLength="39" lengthAdjust="spacingAndGlyphs"><tspan font-style="italic">P</tspan> &lt; .001</text>
<path d="M422.6 235.4h12.5" stroke="#2a4c6c" stroke-width="1.3"/>
<path d="M422.6 245.5h12.5" stroke="#b41c44" stroke-width="1.3"/>
<path d="M429.1 232.44L431.45 237.37L426.75 237.37Z" fill="#1c3c64"/>
<circle cx="429.1" cy="245.5" r="2.4" fill="#c50f2f"/>
<text x="439.2" y="238" font-size="9" textLength="52.6" lengthAdjust="spacingAndGlyphs" fill="#333">LRP1 cluster II</text>
<text x="439.2" y="248.4" font-size="9" textLength="56.2" lengthAdjust="spacingAndGlyphs" fill="#333">LRP1 cluster IV</text>
<polyline points="333.3,236.2 334.01,237.09 334.73,237.97 335.44,238.83 336.16,239.69 336.87,240.53 337.58,241.36 338.3,242.18 339.01,242.99 339.72,243.79 340.44,244.57 341.15,245.35 341.87,246.11 342.58,246.87 343.29,247.61 344.01,248.34 344.72,249.07 345.43,249.78 346.15,250.48 346.86,251.18 347.57,251.86 348.29,252.54 349,253.2 349.72,253.86 350.43,254.51 351.14,255.15 351.86,255.78 352.57,256.4 353.29,257.01 354,257.62 354.71,258.21 355.43,258.8 356.14,259.38 356.85,259.95 357.57,260.52 358.28,261.07 359,261.62 359.71,262.16 360.42,262.69 361.14,263.22 361.85,263.74 362.56,264.25 363.28,264.76 363.99,265.26 364.71,265.75 365.42,266.23 366.13,266.71 366.85,267.18 367.56,267.64 368.27,268.1 368.99,268.55 369.7,269 370.42,269.44 371.13,269.87 371.84,270.3 372.56,270.72 373.27,271.14 373.98,271.55 374.7,271.95 375.41,272.35 376.12,272.75 376.84,273.14 377.55,273.52 378.27,273.9 378.98,274.27 379.69,274.64 380.41,275 381.12,275.35 381.84,275.71 382.55,276.05 383.26,276.4 383.98,276.74 384.69,277.07 385.4,277.4 386.12,277.72 386.83,278.04 387.55,278.36 388.26,278.67 388.97,278.98 389.69,279.28 390.4,279.58 391.11,279.87 391.83,280.16 392.54,280.45 393.25,280.73 393.97,281.01 394.68,281.28 395.4,281.55 396.11,281.82 396.82,282.09 397.54,282.34 398.25,282.6 398.97,282.85 399.68,283.1 400.39,283.35 401.11,283.59 401.82,283.83 402.53,284.07 403.25,284.3 403.96,284.53 404.68,284.76 405.39,284.98 406.1,285.2 406.82,285.42 407.53,285.63 408.24,285.84 408.96,286.05 409.67,286.26 410.38,286.46 411.1,286.66 411.81,286.85 412.53,287.05 413.24,287.24 413.95,287.43 414.67,287.62 415.38,287.8 416.1,287.98 416.81,288.16 417.52,288.34 418.24,288.51 418.95,288.68 419.66,288.85 420.38,289.02 421.09,289.18 421.81,289.35 422.52,289.51 423.23,289.66 423.95,289.82 424.66,289.97 425.37,290.13 426.09,290.27 426.8,290.42 427.51,290.57 428.23,290.71 428.94,290.85 429.66,290.99 430.37,291.13 431.08,291.27 431.8,291.4 432.51,291.53 433.23,291.66 433.94,291.79 434.65,291.92 435.37,292.04 436.08,292.16 436.79,292.29 437.51,292.41 438.22,292.52 438.94,292.64 439.65,292.75 440.36,292.87 441.08,292.98 441.79,293.09 442.5,293.2 443.22,293.31 443.93,293.41 444.64,293.52 445.36,293.62 446.07,293.72 446.79,293.82 447.5,293.92 448.21,294.02 448.93,294.11 449.64,294.21 450.36,294.3 451.07,294.39 451.78,294.48 452.5,294.57 453.21,294.66 453.92,294.75 454.64,294.83 455.35,294.92 456.07,295 456.78,295.09 457.49,295.17 458.21,295.25 458.92,295.33 459.63,295.4 460.35,295.48 461.06,295.56 461.77,295.63 462.49,295.71 463.2,295.78 463.92,295.85 464.63,295.92 465.34,295.99 466.06,296.06 466.77,296.13 467.49,296.19 468.2,296.26 468.91,296.33 469.63,296.39 470.34,296.45 471.05,296.52 471.77,296.58 472.48,296.64 473.2,296.7 473.91,296.76 474.62,296.82 475.34,296.87 476.05,296.93 476.76,296.99 477.48,297.04 478.19,297.1 478.91,297.15 479.62,297.2 480.33,297.26 481.05,297.31 481.76,297.36 482.47,297.41 483.19,297.46 483.9,297.51 484.62,297.55 485.33,297.6 486.04,297.65 486.76,297.69 487.47,297.74 488.18,297.78 488.9,297.83 489.61,297.87 490.33,297.92 491.04,297.96 491.75,298 492.47,298.04 493.18,298.08 493.89,298.12 494.61,298.16 495.32,298.2 496.04,298.24 496.75,298.28 497.46,298.31 498.18,298.35 498.89,298.39 499.6,298.42 500.32,298.46 501.03,298.49 501.75,298.53 502.46,298.56 503.17,298.6 503.89,298.63 504.6,298.66" fill="none" stroke="#2a4c6c" stroke-width="1.3"/>
<polyline points="333.3,236.2 334.01,237.34 334.73,238.47 335.44,239.57 336.16,240.67 336.87,241.75 337.58,242.81 338.3,243.86 339.01,244.89 339.72,245.91 340.44,246.92 341.15,247.91 341.87,248.88 342.58,249.85 343.29,250.8 344.01,251.74 344.72,252.66 345.43,253.57 346.15,254.47 346.86,255.35 347.57,256.23 348.29,257.09 349,257.94 349.72,258.78 350.43,259.6 351.14,260.41 351.86,261.22 352.57,262.01 353.29,262.79 354,263.56 354.71,264.32 355.43,265.07 356.14,265.8 356.85,266.53 357.57,267.25 358.28,267.96 359,268.65 359.71,269.34 360.42,270.02 361.14,270.69 361.85,271.35 362.56,272 363.28,272.64 363.99,273.27 364.71,273.9 365.42,274.51 366.13,275.12 366.85,275.71 367.56,276.3 368.27,276.88 368.99,277.46 369.7,278.02 370.42,278.58 371.13,279.13 371.84,279.67 372.56,280.2 373.27,280.73 373.98,281.25 374.7,281.76 375.41,282.27 376.12,282.77 376.84,283.26 377.55,283.74 378.27,284.22 378.98,284.69 379.69,285.15 380.41,285.61 381.12,286.06 381.84,286.51 382.55,286.95 383.26,287.38 383.98,287.8 384.69,288.23 385.4,288.64 386.12,289.05 386.83,289.45 387.55,289.85 388.26,290.24 388.97,290.63 389.69,291.01 390.4,291.39 391.11,291.76 391.83,292.12 392.54,292.48 393.25,292.84 393.97,293.19 394.68,293.53 395.4,293.87 396.11,294.21 396.82,294.54 397.54,294.87 398.25,295.19 398.97,295.51 399.68,295.82 400.39,296.13 401.11,296.43 401.82,296.73 402.53,297.03 403.25,297.32 403.96,297.61 404.68,297.89 405.39,298.17 406.1,298.45 406.82,298.72 407.53,298.99 408.24,299.26 408.96,299.52 409.67,299.77 410.38,300.03 411.1,300.28 411.81,300.52 412.53,300.77 413.24,301.01 413.95,301.24 414.67,301.48 415.38,301.71 416.1,301.93 416.81,302.16 417.52,302.38 418.24,302.59 418.95,302.81 419.66,303.02 420.38,303.23 421.09,303.43 421.81,303.64 422.52,303.84 423.23,304.03 423.95,304.23 424.66,304.42 425.37,304.61 426.09,304.79 426.8,304.98 427.51,305.16 428.23,305.34 428.94,305.51 429.66,305.69 430.37,305.86 431.08,306.03 431.8,306.19 432.51,306.36 433.23,306.52 433.94,306.68 434.65,306.84 435.37,306.99 436.08,307.14 436.79,307.29 437.51,307.44 438.22,307.59 438.94,307.73 439.65,307.88 440.36,308.02 441.08,308.16 441.79,308.29 442.5,308.43 443.22,308.56 443.93,308.69 444.64,308.82 445.36,308.95 446.07,309.07 446.79,309.2 447.5,309.32 448.21,309.44 448.93,309.56 449.64,309.68 450.36,309.79 451.07,309.91 451.78,310.02 452.5,310.13 453.21,310.24 453.92,310.35 454.64,310.45 455.35,310.56 456.07,310.66 456.78,310.76 457.49,310.86 458.21,310.96 458.92,311.06 459.63,311.15 460.35,311.25 461.06,311.34 461.77,311.44 462.49,311.53 463.2,311.62 463.92,311.7 464.63,311.79 465.34,311.88 466.06,311.96 466.77,312.05 467.49,312.13 468.2,312.21 468.91,312.29 469.63,312.37 470.34,312.45 471.05,312.52 471.77,312.6 472.48,312.67 473.2,312.75 473.91,312.82 474.62,312.89 475.34,312.96 476.05,313.03 476.76,313.1 477.48,313.17 478.19,313.24 478.91,313.3 479.62,313.37 480.33,313.43 481.05,313.49 481.76,313.56 482.47,313.62 483.19,313.68 483.9,313.74 484.62,313.8 485.33,313.85 486.04,313.91 486.76,313.97 487.47,314.02 488.18,314.08 488.9,314.13 489.61,314.19 490.33,314.24 491.04,314.29 491.75,314.34 492.47,314.39 493.18,314.44 493.89,314.49 494.61,314.54 495.32,314.59 496.04,314.63 496.75,314.68 497.46,314.72 498.18,314.77 498.89,314.81 499.6,314.86 500.32,314.9 501.03,314.94 501.75,314.99 502.46,315.03 503.17,315.07 503.89,315.11 504.6,315.15" fill="none" stroke="#b41c44" stroke-width="1.3"/>
<path d="M333.5 232.21V240.19M331 232.21h5M331 240.19h5" stroke="#4d7498" stroke-width="1" fill="none"/>
<path d="M335.5 232.91V251.85M333 232.91h5M333 251.85h5" stroke="#4d7498" stroke-width="1" fill="none"/>
<path d="M344.5 244.48V251.45M342 244.48h5M342 251.45h5" stroke="#4d7498" stroke-width="1" fill="none"/>
<path d="M354.5 255.84V258.83M352 255.84h5M352 258.83h5" stroke="#4d7498" stroke-width="1" fill="none"/>
<path d="M376.5 271.29V274.29M374 271.29h5M374 274.29h5" stroke="#4d7498" stroke-width="1" fill="none"/>
<path d="M418.5 287.15V289.14M416 287.15h5M416 289.14h5" stroke="#4d7498" stroke-width="1" fill="none"/>
<path d="M504.5 297.52V299.51M502 297.52h5M502 299.51h5" stroke="#4d7498" stroke-width="1" fill="none"/>
<path d="M333.5 231.81V240.59M331 231.81h5M331 240.59h5" stroke="#c2577a" stroke-width="1" fill="none"/>
<path d="M335.5 237.2V249.16M333 237.2h5M333 249.16h5" stroke="#c2577a" stroke-width="1" fill="none"/>
<path d="M338.5 234.31V260.63M336 234.31h5M336 260.63h5" stroke="#c2577a" stroke-width="1" fill="none"/>
<path d="M344.5 249.16V259.13M342 249.16h5M342 259.13h5" stroke="#c2577a" stroke-width="1" fill="none"/>
<path d="M354.5 256.44V275.38M352 256.44h5M352 275.38h5" stroke="#c2577a" stroke-width="1" fill="none"/>
<path d="M376.5 274.78V290.74M374 274.78h5M374 290.74h5" stroke="#c2577a" stroke-width="1" fill="none"/>
<path d="M418.5 301.5V305.49M416 301.5h5M416 305.49h5" stroke="#c2577a" stroke-width="1" fill="none"/>
<path d="M504.5 312.97V316.96M502 312.97h5M502 316.96h5" stroke="#c2577a" stroke-width="1" fill="none"/>
<path d="M333.3 233.05L335.8 238.3L330.8 238.3Z" fill="#1c3c64"/>
<path d="M335.98 239.23L338.48 244.48L333.48 244.48Z" fill="#1c3c64"/>
<path d="M338.65 241.03L341.15 246.28L336.15 246.28Z" fill="#1c3c64"/>
<path d="M344.01 244.81L346.51 250.06L341.51 250.06Z" fill="#1c3c64"/>
<path d="M354.71 254.19L357.21 259.44L352.21 259.44Z" fill="#1c3c64"/>
<path d="M376.12 269.64L378.62 274.89L373.62 274.89Z" fill="#1c3c64"/>
<path d="M418.95 284.99L421.45 290.24L416.45 290.24Z" fill="#1c3c64"/>
<path d="M504.6 295.36L507.1 300.61L502.1 300.61Z" fill="#1c3c64"/>
<circle cx="333.3" cy="236.2" r="2.4" fill="#c50f2f"/>
<circle cx="335.98" cy="243.18" r="2.4" fill="#c50f2f"/>
<circle cx="338.65" cy="247.47" r="2.4" fill="#c50f2f"/>
<circle cx="344.01" cy="254.15" r="2.4" fill="#c50f2f"/>
<circle cx="354.71" cy="265.91" r="2.4" fill="#c50f2f"/>
<circle cx="376.12" cy="282.76" r="2.4" fill="#c50f2f"/>
<circle cx="418.95" cy="303.5" r="2.4" fill="#c50f2f"/>
<circle cx="504.6" cy="314.96" r="2.4" fill="#c50f2f"/>
<circle cx="333.3" cy="236.2" r="2.5" fill="#3f2258"/>
<path d="M335.98 239.48L338.28 244.31L333.68 244.31Z" fill="#2a2a5a"/>
<text x="8.4" y="408.8" font-size="12.5" font-weight="bold" fill="#111" stroke="#111" stroke-width="0.45">E</text>
<text x="145.75" y="416.8" font-size="11" text-anchor="middle" textLength="146.8" lengthAdjust="spacingAndGlyphs" fill="#222">VWF-A1A2A3 - LRP1 cluster II</text>
<path d="M52.5 423.8V545.9H239" fill="none" stroke="#1c1c1c" stroke-width="1.3"/>
<path d="M49.3 533.8H52.5M49.3 508.82H52.5M49.3 483.85H52.5M49.3 458.88H52.5M49.3 433.9H52.5M64.4 545.9V549.2M98.62 545.9V549.2M132.84 545.9V549.2M167.06 545.9V549.2M201.28 545.9V549.2M235.5 545.9V549.2" stroke="#1c1c1c" stroke-width="1.2"/>
<text x="45.2" y="536.2" font-size="9.5" text-anchor="end" textLength="4.6" lengthAdjust="spacingAndGlyphs" fill="#333">0</text>
<text x="45.2" y="511.22" font-size="9.5" text-anchor="end" textLength="9.4" lengthAdjust="spacingAndGlyphs" fill="#333">25</text>
<text x="45.2" y="486.25" font-size="9.5" text-anchor="end" textLength="9.4" lengthAdjust="spacingAndGlyphs" fill="#333">50</text>
<text x="45.2" y="461.27" font-size="9.5" text-anchor="end" textLength="9.4" lengthAdjust="spacingAndGlyphs" fill="#333">75</text>
<text x="45.2" y="436.3" font-size="9.5" text-anchor="end" textLength="14.2" lengthAdjust="spacingAndGlyphs" fill="#333">100</text>
<text x="64.4" y="560.6" font-size="9.5" text-anchor="middle" textLength="4.6" lengthAdjust="spacingAndGlyphs" fill="#333">0</text>
<text x="98.62" y="560.6" font-size="9.5" text-anchor="middle" textLength="14.6" lengthAdjust="spacingAndGlyphs" fill="#333">100</text>
<text x="132.84" y="560.6" font-size="9.5" text-anchor="middle" textLength="14.6" lengthAdjust="spacingAndGlyphs" fill="#333">200</text>
<text x="167.06" y="560.6" font-size="9.5" text-anchor="middle" textLength="14.6" lengthAdjust="spacingAndGlyphs" fill="#333">300</text>
<text x="201.28" y="560.6" font-size="9.5" text-anchor="middle" textLength="14.6" lengthAdjust="spacingAndGlyphs" fill="#333">400</text>
<text x="235.5" y="560.6" font-size="9.5" text-anchor="middle" textLength="14.6" lengthAdjust="spacingAndGlyphs" fill="#333">500</text>
<text x="145.75" y="575.8" font-size="10.6" text-anchor="middle" textLength="53" lengthAdjust="spacingAndGlyphs" fill="#333">Aptamer (nM)</text>
<text x="0" y="0" fill="#333" font-size="11" text-anchor="middle" textLength="66.5" lengthAdjust="spacingAndGlyphs" transform="translate(24.2 483.85) rotate(-90)">Plate binding (%)</text>
<text x="97.1" y="436.5" fill="#333" font-size="10.6" textLength="40.3" lengthAdjust="spacingAndGlyphs"><tspan font-style="italic">P</tspan> = .230</text>
<path d="M188 433.1h12.5" stroke="#2a4c6c" stroke-width="1.3"/>
<path d="M188 443.2h12.5" stroke="#b41c44" stroke-width="1.3"/>
<path d="M194.5 430.14L196.85 435.07L192.15 435.07Z" fill="#1c3c64"/>
<circle cx="194.5" cy="443.2" r="2.4" fill="#c50f2f"/>
<text x="204.6" y="435.7" font-size="9.6" textLength="24.2" lengthAdjust="spacingAndGlyphs" fill="#333">BT100</text>
<text x="204.6" y="446.1" font-size="9.6" textLength="24.2" lengthAdjust="spacingAndGlyphs" fill="#333">BT200</text>
<polyline points="64.4,433.9 65.11,434.08 65.83,434.43 66.54,434.91 67.25,435.5 67.96,436.17 68.68,436.91 69.39,437.72 70.1,438.59 70.82,439.51 71.53,440.47 72.24,441.47 72.96,442.5 73.67,443.57 74.38,444.65 75.09,445.76 75.81,446.88 76.52,448.02 77.23,449.16 77.95,450.31 78.66,451.47 79.37,452.63 80.08,453.79 80.8,454.95 81.51,456.1 82.22,457.25 82.94,458.39 83.65,459.52 84.36,460.65 85.07,461.76 85.79,462.86 86.5,463.95 87.21,465.03 87.93,466.1 88.64,467.15 89.35,468.18 90.06,469.21 90.78,470.21 91.49,471.21 92.2,472.18 92.92,473.14 93.63,474.09 94.34,475.02 95.06,475.93 95.77,476.83 96.48,477.71 97.19,478.58 97.91,479.43 98.62,480.27 99.33,481.09 100.05,481.89 100.76,482.68 101.47,483.46 102.18,484.22 102.9,484.97 103.61,485.7 104.32,486.42 105.04,487.12 105.75,487.81 106.46,488.49 107.18,489.16 107.89,489.81 108.6,490.45 109.31,491.08 110.03,491.69 110.74,492.29 111.45,492.88 112.17,493.46 112.88,494.03 113.59,494.59 114.3,495.14 115.02,495.67 115.73,496.2 116.44,496.72 117.16,497.22 117.87,497.72 118.58,498.21 119.29,498.68 120.01,499.15 120.72,499.61 121.43,500.06 122.15,500.51 122.86,500.94 123.57,501.37 124.28,501.79 125,502.2 125.71,502.6 126.42,502.99 127.14,503.38 127.85,503.76 128.56,504.14 129.28,504.51 129.99,504.87 130.7,505.22 131.41,505.57 132.13,505.91 132.84,506.25 133.55,506.58 134.27,506.9 134.98,507.22 135.69,507.53 136.4,507.84 137.12,508.14 137.83,508.44 138.54,508.73 139.26,509.01 139.97,509.29 140.68,509.57 141.4,509.84 142.11,510.11 142.82,510.37 143.53,510.63 144.25,510.89 144.96,511.14 145.67,511.38 146.39,511.63 147.1,511.86 147.81,512.1 148.52,512.33 149.24,512.55 149.95,512.78 150.66,513 151.38,513.21 152.09,513.43 152.8,513.64 153.51,513.84 154.23,514.04 154.94,514.24 155.65,514.44 156.37,514.63 157.08,514.82 157.79,515.01 158.5,515.2 159.22,515.38 159.93,515.56 160.64,515.74 161.36,515.91 162.07,516.08 162.78,516.25 163.5,516.42 164.21,516.58 164.92,516.74 165.63,516.9 166.35,517.06 167.06,517.21 167.77,517.37 168.49,517.52 169.2,517.67 169.91,517.81 170.62,517.96 171.34,518.1 172.05,518.24 172.76,518.38 173.48,518.51 174.19,518.65 174.9,518.78 175.62,518.91 176.33,519.04 177.04,519.17 177.75,519.29 178.47,519.42 179.18,519.54 179.89,519.66 180.61,519.78 181.32,519.9 182.03,520.01 182.74,520.13 183.46,520.24 184.17,520.35 184.88,520.46 185.6,520.57 186.31,520.68 187.02,520.78 187.73,520.89 188.45,520.99 189.16,521.09 189.87,521.19 190.59,521.29 191.3,521.39 192.01,521.49 192.72,521.58 193.44,521.68 194.15,521.77 194.86,521.87 195.58,521.96 196.29,522.05 197,522.14 197.72,522.22 198.43,522.31 199.14,522.4 199.85,522.48 200.57,522.57 201.28,522.65 201.99,522.73 202.71,522.81 203.42,522.89 204.13,522.97 204.84,523.05 205.56,523.13 206.27,523.2 206.98,523.28 207.7,523.36 208.41,523.43 209.12,523.5 209.84,523.57 210.55,523.65 211.26,523.72 211.97,523.79 212.69,523.86 213.4,523.92 214.11,523.99 214.83,524.06 215.54,524.13 216.25,524.19 216.96,524.26 217.68,524.32 218.39,524.38 219.1,524.45 219.82,524.51 220.53,524.57 221.24,524.63 221.95,524.69 222.67,524.75 223.38,524.81 224.09,524.87 224.81,524.93 225.52,524.98 226.23,525.04 226.95,525.1 227.66,525.15 228.37,525.21 229.08,525.26 229.8,525.32 230.51,525.37 231.22,525.42 231.94,525.47 232.65,525.52 233.36,525.58 234.07,525.63 234.79,525.68 235.5,525.73" fill="none" stroke="#2a4c6c" stroke-width="1.3"/>
<polyline points="64.4,433.9 65.11,434.75 65.83,435.6 66.54,436.44 67.25,437.27 67.96,438.1 68.68,438.92 69.39,439.73 70.1,440.54 70.82,441.33 71.53,442.13 72.24,442.91 72.96,443.69 73.67,444.46 74.38,445.23 75.09,445.99 75.81,446.74 76.52,447.49 77.23,448.23 77.95,448.97 78.66,449.7 79.37,450.42 80.08,451.14 80.8,451.85 81.51,452.55 82.22,453.25 82.94,453.94 83.65,454.63 84.36,455.31 85.07,455.99 85.79,456.66 86.5,457.33 87.21,457.99 87.93,458.64 88.64,459.29 89.35,459.93 90.06,460.57 90.78,461.2 91.49,461.83 92.2,462.45 92.92,463.07 93.63,463.68 94.34,464.29 95.06,464.89 95.77,465.49 96.48,466.08 97.19,466.66 97.91,467.25 98.62,467.82 99.33,468.4 100.05,468.96 100.76,469.53 101.47,470.08 102.18,470.64 102.9,471.19 103.61,471.73 104.32,472.27 105.04,472.81 105.75,473.34 106.46,473.86 107.18,474.39 107.89,474.9 108.6,475.42 109.31,475.93 110.03,476.43 110.74,476.93 111.45,477.43 112.17,477.92 112.88,478.41 113.59,478.9 114.3,479.38 115.02,479.85 115.73,480.33 116.44,480.79 117.16,481.26 117.87,481.72 118.58,482.18 119.29,482.63 120.01,483.08 120.72,483.53 121.43,483.97 122.15,484.41 122.86,484.84 123.57,485.27 124.28,485.7 125,486.12 125.71,486.54 126.42,486.96 127.14,487.38 127.85,487.79 128.56,488.19 129.28,488.6 129.99,489 130.7,489.39 131.41,489.79 132.13,490.18 132.84,490.56 133.55,490.95 134.27,491.33 134.98,491.7 135.69,492.08 136.4,492.45 137.12,492.82 137.83,493.18 138.54,493.54 139.26,493.9 139.97,494.26 140.68,494.61 141.4,494.96 142.11,495.31 142.82,495.65 143.53,496 144.25,496.33 144.96,496.67 145.67,497 146.39,497.33 147.1,497.66 147.81,497.99 148.52,498.31 149.24,498.63 149.95,498.94 150.66,499.26 151.38,499.57 152.09,499.88 152.8,500.18 153.51,500.49 154.23,500.79 154.94,501.09 155.65,501.38 156.37,501.68 157.08,501.97 157.79,502.26 158.5,502.55 159.22,502.83 159.93,503.11 160.64,503.39 161.36,503.67 162.07,503.94 162.78,504.22 163.5,504.49 164.21,504.75 164.92,505.02 165.63,505.28 166.35,505.55 167.06,505.81 167.77,506.06 168.49,506.32 169.2,506.57 169.91,506.82 170.62,507.07 171.34,507.32 172.05,507.56 172.76,507.8 173.48,508.04 174.19,508.28 174.9,508.52 175.62,508.75 176.33,508.99 177.04,509.22 177.75,509.45 178.47,509.67 179.18,509.9 179.89,510.12 180.61,510.34 181.32,510.56 182.03,510.78 182.74,511 183.46,511.21 184.17,511.42 184.88,511.63 185.6,511.84 186.31,512.05 187.02,512.25 187.73,512.46 188.45,512.66 189.16,512.86 189.87,513.06 190.59,513.26 191.3,513.45 192.01,513.65 192.72,513.84 193.44,514.03 194.15,514.22 194.86,514.4 195.58,514.59 196.29,514.77 197,514.96 197.72,515.14 198.43,515.32 199.14,515.5 199.85,515.67 200.57,515.85 201.28,516.02 201.99,516.19 202.71,516.37 203.42,516.54 204.13,516.7 204.84,516.87 205.56,517.04 206.27,517.2 206.98,517.36 207.7,517.52 208.41,517.68 209.12,517.84 209.84,518 210.55,518.16 211.26,518.31 211.97,518.46 212.69,518.62 213.4,518.77 214.11,518.92 214.83,519.06 215.54,519.21 216.25,519.36 216.96,519.5 217.68,519.65 218.39,519.79 219.1,519.93 219.82,520.07 220.53,520.21 221.24,520.35 221.95,520.48 222.67,520.62 223.38,520.75 224.09,520.89 224.81,521.02 225.52,521.15 226.23,521.28 226.95,521.41 227.66,521.53 228.37,521.66 229.08,521.79 229.8,521.91 230.51,522.03 231.22,522.16 231.94,522.28 232.65,522.4 233.36,522.52 234.07,522.64 234.79,522.75 235.5,522.87" fill="none" stroke="#b41c44" stroke-width="1.3"/>
<path d="M75.5 445.39V449.38M73 445.39h5M73 449.38h5" stroke="#4d7498" stroke-width="1" fill="none"/>
<path d="M107.5 489.04V495.04M105 489.04h5M105 495.04h5" stroke="#4d7498" stroke-width="1" fill="none"/>
<path d="M149.5 513.82V521.81M147 513.82h5M147 521.81h5" stroke="#4d7498" stroke-width="1" fill="none"/>
<path d="M75.5 440.99V450.38M73 440.99h5M73 450.38h5" stroke="#c2577a" stroke-width="1" fill="none"/>
<path d="M85.5 446.19V457.78M83 446.19h5M83 457.78h5" stroke="#c2577a" stroke-width="1" fill="none"/>
<path d="M107.5 461.67V474.86M105 461.67h5M105 474.86h5" stroke="#c2577a" stroke-width="1" fill="none"/>
<path d="M64.4 430.75L66.9 436L61.9 436Z" fill="#1c3c64"/>
<path d="M67.07 431.75L69.57 437L64.57 437Z" fill="#1c3c64"/>
<path d="M69.74 435.75L72.24 441L67.24 441Z" fill="#1c3c64"/>
<path d="M75.09 444.24L77.59 449.49L72.59 449.49Z" fill="#1c3c64"/>
<path d="M85.79 459.32L88.29 464.57L83.29 464.57Z" fill="#1c3c64"/>
<path d="M107.18 488.89L109.68 494.14L104.68 494.14Z" fill="#1c3c64"/>
<path d="M149.95 514.67L152.45 519.92L147.45 519.92Z" fill="#1c3c64"/>
<path d="M235.5 519.86L238 525.11L233 525.11Z" fill="#1c3c64"/>
<circle cx="64.4" cy="433.9" r="2.4" fill="#c50f2f"/>
<circle cx="67.07" cy="438.89" r="2.4" fill="#c50f2f"/>
<circle cx="69.74" cy="439.29" r="2.4" fill="#c50f2f"/>
<circle cx="75.09" cy="445.69" r="2.4" fill="#c50f2f"/>
<circle cx="85.79" cy="451.98" r="2.4" fill="#c50f2f"/>
<circle cx="107.18" cy="468.27" r="2.4" fill="#c50f2f"/>
<circle cx="149.95" cy="507.93" r="2.4" fill="#c50f2f"/>
<circle cx="235.5" cy="520.01" r="2.4" fill="#c50f2f"/>
<text x="275" y="408.9" font-size="12.5" font-weight="bold" fill="#111" stroke="#111" stroke-width="0.45">F</text>
<text x="414.75" y="417" font-size="11" text-anchor="middle" textLength="150.9" lengthAdjust="spacingAndGlyphs" fill="#222">VWF-A1A2A3 - LRP1 cluster IV</text>
<path d="M321.6 423.8V545.9H507.9" fill="none" stroke="#1c1c1c" stroke-width="1.3"/>
<path d="M318.4 533.8H321.6M318.4 508.82H321.6M318.4 483.85H321.6M318.4 458.88H321.6M318.4 433.9H321.6M333.3 545.9V549.2M367.56 545.9V549.2M401.82 545.9V549.2M436.08 545.9V549.2M470.34 545.9V549.2M504.6 545.9V549.2" stroke="#1c1c1c" stroke-width="1.2"/>
<text x="314.3" y="536.2" font-size="9.5" text-anchor="end" textLength="4.6" lengthAdjust="spacingAndGlyphs" fill="#333">0</text>
<text x="314.3" y="511.22" font-size="9.5" text-anchor="end" textLength="9.4" lengthAdjust="spacingAndGlyphs" fill="#333">25</text>
<text x="314.3" y="486.25" font-size="9.5" text-anchor="end" textLength="9.4" lengthAdjust="spacingAndGlyphs" fill="#333">50</text>
<text x="314.3" y="461.27" font-size="9.5" text-anchor="end" textLength="9.4" lengthAdjust="spacingAndGlyphs" fill="#333">75</text>
<text x="314.3" y="436.3" font-size="9.5" text-anchor="end" textLength="14.2" lengthAdjust="spacingAndGlyphs" fill="#333">100</text>
<text x="333.3" y="560.6" font-size="9.5" text-anchor="middle" textLength="4.6" lengthAdjust="spacingAndGlyphs" fill="#333">0</text>
<text x="367.56" y="560.6" font-size="9.5" text-anchor="middle" textLength="14.6" lengthAdjust="spacingAndGlyphs" fill="#333">100</text>
<text x="401.82" y="560.6" font-size="9.5" text-anchor="middle" textLength="14.6" lengthAdjust="spacingAndGlyphs" fill="#333">200</text>
<text x="436.08" y="560.6" font-size="9.5" text-anchor="middle" textLength="14.6" lengthAdjust="spacingAndGlyphs" fill="#333">300</text>
<text x="470.34" y="560.6" font-size="9.5" text-anchor="middle" textLength="14.6" lengthAdjust="spacingAndGlyphs" fill="#333">400</text>
<text x="504.6" y="560.6" font-size="9.5" text-anchor="middle" textLength="14.6" lengthAdjust="spacingAndGlyphs" fill="#333">500</text>
<text x="414.75" y="575.8" font-size="10.6" text-anchor="middle" textLength="53" lengthAdjust="spacingAndGlyphs" fill="#333">Aptamer (nM)</text>
<text x="0" y="0" fill="#333" font-size="11" text-anchor="middle" textLength="66.5" lengthAdjust="spacingAndGlyphs" transform="translate(293.3 483.85) rotate(-90)">Plate binding (%)</text>
<text x="366.2" y="436.5" fill="#333" font-size="10.6" textLength="41.5" lengthAdjust="spacingAndGlyphs"><tspan font-style="italic">P</tspan> = .070</text>
<path d="M456.9 433.1h12.5" stroke="#2a4c6c" stroke-width="1.3"/>
<path d="M456.9 443.2h12.5" stroke="#b41c44" stroke-width="1.3"/>
<path d="M463.4 430.14L465.75 435.07L461.05 435.07Z" fill="#1c3c64"/>
<circle cx="463.4" cy="443.2" r="2.4" fill="#c50f2f"/>
<text x="473.5" y="435.7" font-size="9.6" textLength="24.2" lengthAdjust="spacingAndGlyphs" fill="#333">BT100</text>
<text x="473.5" y="446.1" font-size="9.6" textLength="24.2" lengthAdjust="spacingAndGlyphs" fill="#333">BT200</text>
<polyline points="333.3,433.9 334.01,434.87 334.73,435.82 335.44,436.76 336.16,437.7 336.87,438.62 337.58,439.54 338.3,440.44 339.01,441.33 339.72,442.22 340.44,443.09 341.15,443.95 341.87,444.81 342.58,445.66 343.29,446.49 344.01,447.32 344.72,448.14 345.43,448.95 346.15,449.75 346.86,450.54 347.57,451.32 348.29,452.09 349,452.86 349.72,453.62 350.43,454.37 351.14,455.11 351.86,455.84 352.57,456.56 353.29,457.28 354,457.99 354.71,458.69 355.43,459.38 356.14,460.07 356.85,460.75 357.57,461.42 358.28,462.08 359,462.74 359.71,463.38 360.42,464.03 361.14,464.66 361.85,465.29 362.56,465.91 363.28,466.52 363.99,467.13 364.71,467.73 365.42,468.32 366.13,468.91 366.85,469.49 367.56,470.07 368.27,470.63 368.99,471.2 369.7,471.75 370.42,472.3 371.13,472.85 371.84,473.38 372.56,473.92 373.27,474.44 373.98,474.96 374.7,475.48 375.41,475.98 376.12,476.49 376.84,476.99 377.55,477.48 378.27,477.96 378.98,478.45 379.69,478.92 380.41,479.39 381.12,479.86 381.84,480.32 382.55,480.78 383.26,481.23 383.98,481.67 384.69,482.11 385.4,482.55 386.12,482.98 386.83,483.41 387.55,483.83 388.26,484.24 388.97,484.66 389.69,485.07 390.4,485.47 391.11,485.87 391.83,486.26 392.54,486.65 393.25,487.04 393.97,487.42 394.68,487.8 395.4,488.17 396.11,488.54 396.82,488.91 397.54,489.27 398.25,489.63 398.97,489.98 399.68,490.33 400.39,490.67 401.11,491.02 401.82,491.35 402.53,491.69 403.25,492.02 403.96,492.35 404.68,492.67 405.39,492.99 406.1,493.31 406.82,493.62 407.53,493.93 408.24,494.24 408.96,494.54 409.67,494.84 410.38,495.13 411.1,495.43 411.81,495.72 412.53,496 413.24,496.29 413.95,496.57 414.67,496.84 415.38,497.12 416.1,497.39 416.81,497.66 417.52,497.92 418.24,498.19 418.95,498.44 419.66,498.7 420.38,498.96 421.09,499.21 421.81,499.45 422.52,499.7 423.23,499.94 423.95,500.18 424.66,500.42 425.37,500.66 426.09,500.89 426.8,501.12 427.51,501.34 428.23,501.57 428.94,501.79 429.66,502.01 430.37,502.23 431.08,502.44 431.8,502.66 432.51,502.87 433.23,503.07 433.94,503.28 434.65,503.48 435.37,503.69 436.08,503.88 436.79,504.08 437.51,504.28 438.22,504.47 438.94,504.66 439.65,504.85 440.36,505.03 441.08,505.22 441.79,505.4 442.5,505.58 443.22,505.76 443.93,505.93 444.64,506.11 445.36,506.28 446.07,506.45 446.79,506.62 447.5,506.79 448.21,506.95 448.93,507.12 449.64,507.28 450.36,507.44 451.07,507.59 451.78,507.75 452.5,507.91 453.21,508.06 453.92,508.21 454.64,508.36 455.35,508.51 456.06,508.65 456.78,508.8 457.49,508.94 458.21,509.08 458.92,509.22 459.63,509.36 460.35,509.5 461.06,509.63 461.77,509.76 462.49,509.9 463.2,510.03 463.92,510.16 464.63,510.29 465.34,510.41 466.06,510.54 466.77,510.66 467.49,510.78 468.2,510.9 468.91,511.02 469.63,511.14 470.34,511.26 471.05,511.38 471.77,511.49 472.48,511.6 473.2,511.72 473.91,511.83 474.62,511.94 475.34,512.04 476.05,512.15 476.76,512.26 477.48,512.36 478.19,512.47 478.91,512.57 479.62,512.67 480.33,512.77 481.05,512.87 481.76,512.97 482.47,513.07 483.19,513.16 483.9,513.26 484.62,513.35 485.33,513.44 486.04,513.54 486.76,513.63 487.47,513.72 488.18,513.81 488.9,513.89 489.61,513.98 490.33,514.07 491.04,514.15 491.75,514.24 492.47,514.32 493.18,514.4 493.89,514.48 494.61,514.56 495.32,514.64 496.04,514.72 496.75,514.8 497.46,514.88 498.18,514.95 498.89,515.03 499.6,515.1 500.32,515.18 501.03,515.25 501.75,515.32 502.46,515.39 503.17,515.46 503.89,515.53 504.6,515.6" fill="none" stroke="#2a4c6c" stroke-width="1.3"/>
<polyline points="333.3,433.9 334.01,434.57 334.73,435.23 335.44,435.89 336.16,436.54 336.87,437.19 337.58,437.83 338.3,438.47 339.01,439.11 339.72,439.74 340.44,440.36 341.15,440.98 341.87,441.6 342.58,442.21 343.29,442.82 344.01,443.42 344.72,444.02 345.43,444.61 346.15,445.2 346.86,445.79 347.57,446.37 348.29,446.95 349,447.52 349.72,448.09 350.43,448.66 351.14,449.22 351.86,449.77 352.57,450.32 353.29,450.87 354,451.42 354.71,451.96 355.43,452.49 356.14,453.03 356.85,453.56 357.57,454.08 358.28,454.6 359,455.12 359.71,455.63 360.42,456.14 361.14,456.65 361.85,457.15 362.56,457.65 363.28,458.15 363.99,458.64 364.71,459.12 365.42,459.61 366.13,460.09 366.85,460.57 367.56,461.04 368.27,461.51 368.99,461.98 369.7,462.44 370.42,462.9 371.13,463.36 371.84,463.81 372.56,464.26 373.27,464.71 373.98,465.16 374.7,465.6 375.41,466.03 376.12,466.47 376.84,466.9 377.55,467.33 378.27,467.75 378.98,468.17 379.69,468.59 380.41,469.01 381.12,469.42 381.84,469.83 382.55,470.24 383.26,470.64 383.98,471.04 384.69,471.44 385.4,471.83 386.12,472.23 386.83,472.62 387.55,473 388.26,473.39 388.97,473.77 389.69,474.14 390.4,474.52 391.11,474.89 391.83,475.26 392.54,475.63 393.25,475.99 393.97,476.36 394.68,476.72 395.4,477.07 396.11,477.43 396.82,477.78 397.54,478.13 398.25,478.47 398.97,478.82 399.68,479.16 400.39,479.5 401.11,479.83 401.82,480.17 402.53,480.5 403.25,480.83 403.96,481.16 404.68,481.48 405.39,481.8 406.1,482.12 406.82,482.44 407.53,482.75 408.24,483.07 408.96,483.38 409.67,483.69 410.38,483.99 411.1,484.3 411.81,484.6 412.53,484.9 413.24,485.19 413.95,485.49 414.67,485.78 415.38,486.07 416.1,486.36 416.81,486.65 417.52,486.93 418.24,487.21 418.95,487.5 419.66,487.77 420.38,488.05 421.09,488.32 421.81,488.6 422.52,488.87 423.23,489.14 423.95,489.4 424.66,489.67 425.37,489.93 426.09,490.19 426.8,490.45 427.51,490.7 428.23,490.96 428.94,491.21 429.66,491.46 430.37,491.71 431.08,491.96 431.8,492.21 432.51,492.45 433.23,492.69 433.94,492.93 434.65,493.17 435.37,493.41 436.08,493.65 436.79,493.88 437.51,494.11 438.22,494.34 438.94,494.57 439.65,494.8 440.36,495.02 441.08,495.25 441.79,495.47 442.5,495.69 443.22,495.91 443.93,496.12 444.64,496.34 445.36,496.55 446.07,496.77 446.79,496.98 447.5,497.19 448.21,497.4 448.93,497.6 449.64,497.81 450.36,498.01 451.07,498.21 451.78,498.41 452.5,498.61 453.21,498.81 453.92,499.01 454.64,499.2 455.35,499.39 456.06,499.59 456.78,499.78 457.49,499.97 458.21,500.15 458.92,500.34 459.63,500.52 460.35,500.71 461.06,500.89 461.77,501.07 462.49,501.25 463.2,501.43 463.92,501.61 464.63,501.78 465.34,501.96 466.06,502.13 466.77,502.3 467.49,502.47 468.2,502.64 468.91,502.81 469.63,502.98 470.34,503.14 471.05,503.31 471.77,503.47 472.48,503.63 473.2,503.8 473.91,503.96 474.62,504.11 475.34,504.27 476.05,504.43 476.76,504.58 477.48,504.74 478.19,504.89 478.91,505.04 479.62,505.19 480.33,505.34 481.05,505.49 481.76,505.64 482.47,505.79 483.19,505.93 483.9,506.08 484.62,506.22 485.33,506.36 486.04,506.5 486.76,506.64 487.47,506.78 488.18,506.92 488.9,507.06 489.61,507.19 490.33,507.33 491.04,507.46 491.75,507.6 492.47,507.73 493.18,507.86 493.89,507.99 494.61,508.12 495.32,508.25 496.04,508.38 496.75,508.5 497.46,508.63 498.18,508.75 498.89,508.88 499.6,509 500.32,509.12 501.03,509.24 501.75,509.36 502.46,509.48 503.17,509.6 503.89,509.72 504.6,509.84" fill="none" stroke="#b41c44" stroke-width="1.3"/>
<path d="M335.5 434.9V442.89M333 434.9h5M333 442.89h5" stroke="#4d7498" stroke-width="1" fill="none"/>
<path d="M376.5 471.76V479.75M374 471.76h5M374 479.75h5" stroke="#4d7498" stroke-width="1" fill="none"/>
<path d="M338.5 440.49V448.49M336 440.49h5M336 448.49h5" stroke="#c2577a" stroke-width="1" fill="none"/>
<path d="M344.5 442.79V450.78M342 442.79h5M342 450.78h5" stroke="#c2577a" stroke-width="1" fill="none"/>
<path d="M376.5 458.18V470.16M374 458.18h5M374 470.16h5" stroke="#c2577a" stroke-width="1" fill="none"/>
<path d="M418.5 487.95V492.34M416 487.95h5M416 492.34h5" stroke="#c2577a" stroke-width="1" fill="none"/>
<path d="M333.3 430.75L335.8 436L330.8 436Z" fill="#1c3c64"/>
<path d="M335.97 435.75L338.47 441L333.47 441Z" fill="#1c3c64"/>
<path d="M338.64 437.74L341.14 442.99L336.14 442.99Z" fill="#1c3c64"/>
<path d="M344.01 442.74L346.51 447.99L341.51 447.99Z" fill="#1c3c64"/>
<path d="M354.71 453.73L357.21 458.98L352.21 458.98Z" fill="#1c3c64"/>
<path d="M376.12 472.61L378.62 477.86L373.62 477.86Z" fill="#1c3c64"/>
<path d="M418.95 499.48L421.45 504.73L416.45 504.73Z" fill="#1c3c64"/>
<path d="M504.6 511.87L507.1 517.12L502.1 517.12Z" fill="#1c3c64"/>
<circle cx="333.3" cy="433.9" r="2.4" fill="#c50f2f"/>
<circle cx="335.97" cy="437.6" r="2.4" fill="#c50f2f"/>
<circle cx="338.64" cy="444.49" r="2.4" fill="#c50f2f"/>
<circle cx="344.01" cy="446.79" r="2.4" fill="#c50f2f"/>
<circle cx="354.71" cy="450.28" r="2.4" fill="#c50f2f"/>
<circle cx="376.12" cy="464.17" r="2.4" fill="#c50f2f"/>
<circle cx="418.95" cy="490.14" r="2.4" fill="#c50f2f"/>
<circle cx="504.6" cy="510.02" r="2.4" fill="#c50f2f"/>
<rect x="0.5" y="0.5" width="519" height="585" fill="none" stroke="#505050" stroke-width="1"/>
</svg></body></html>
